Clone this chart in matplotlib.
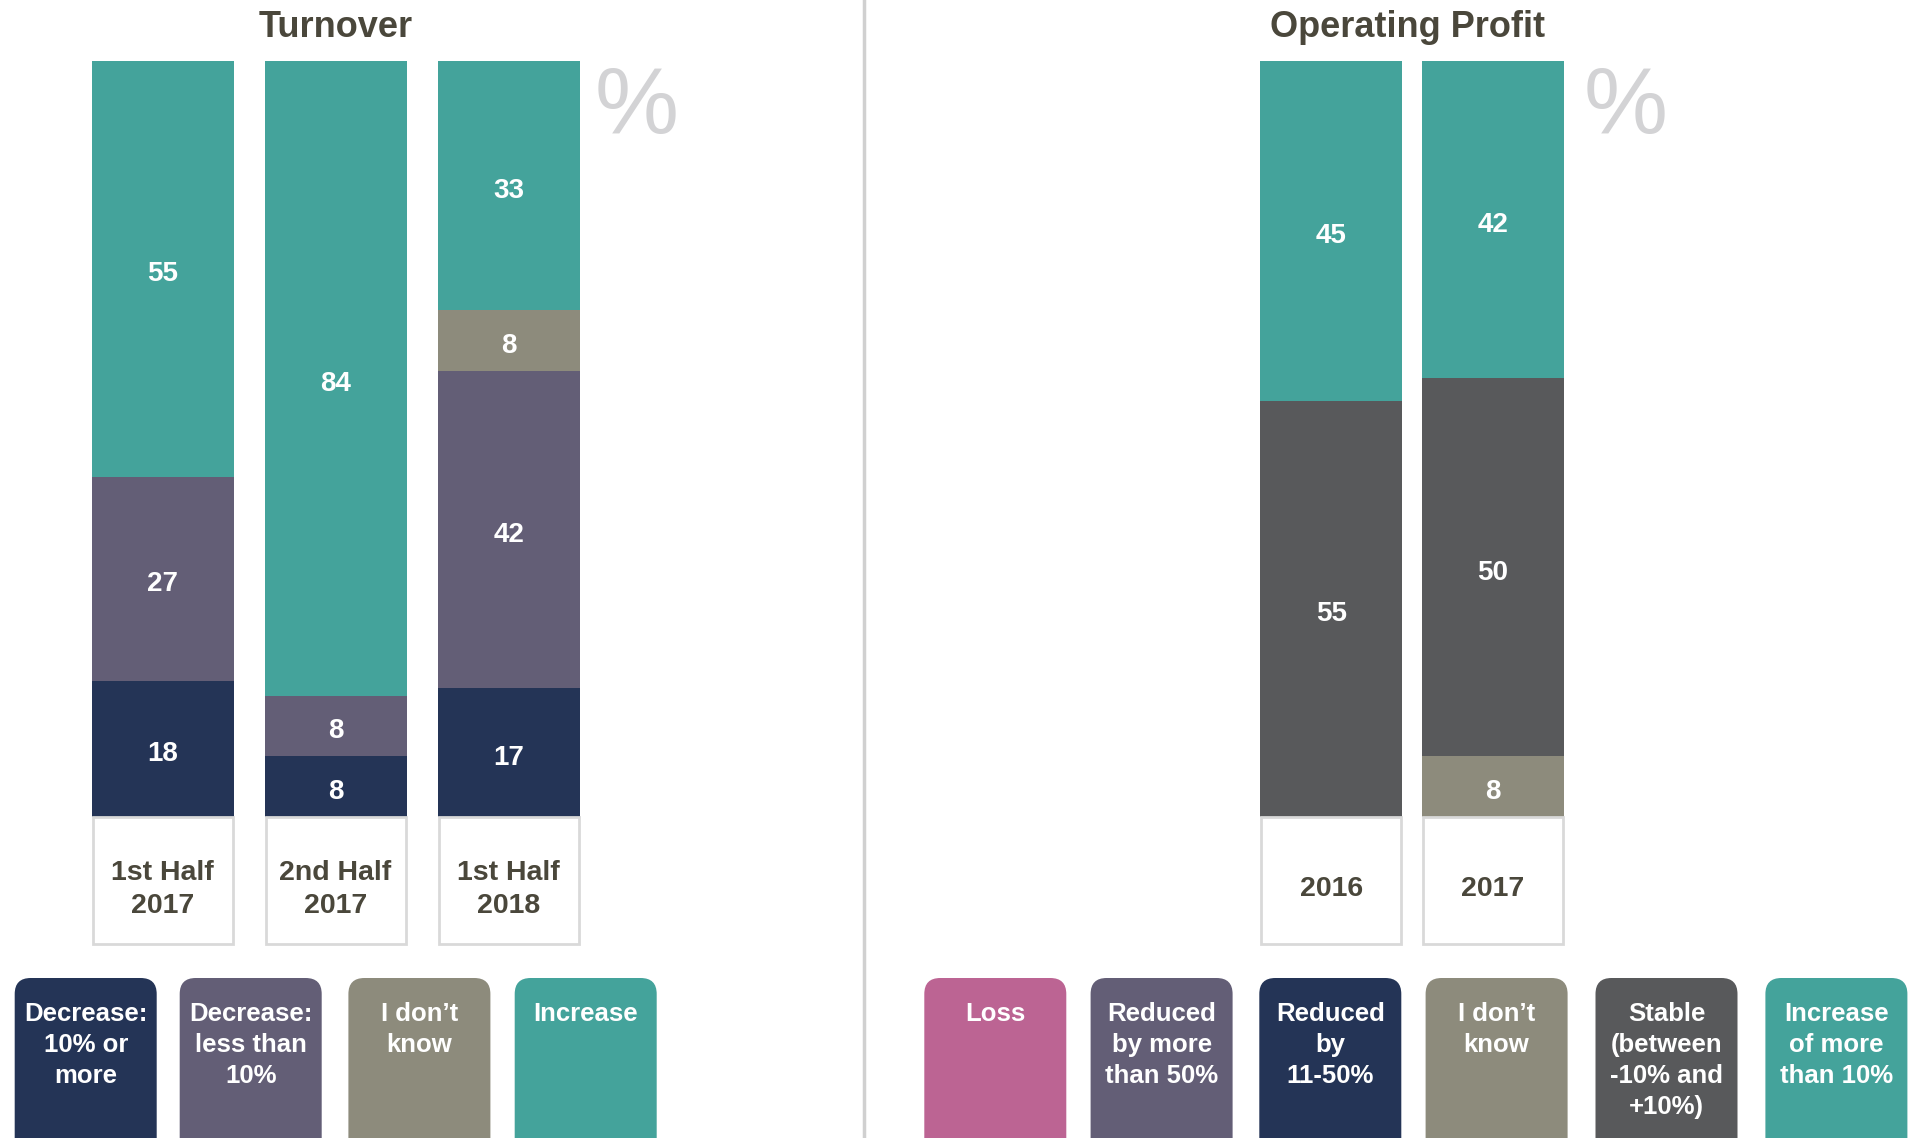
import matplotlib
matplotlib.use("Agg")
import matplotlib.pyplot as plt
from matplotlib.patches import FancyBboxPatch

plt.rcParams['font.family'] = ['Liberation Sans', 'DejaVu Sans']

# ---- data ----
turn_cats = ['1st Half\n2017', '2nd Half\n2017', '1st Half\n2018']
turn_series = ['Decrease:\n10% or\nmore', 'Decrease:\nless than\n10%', 'I don\u2019t\nknow', 'Increase']
turn_dec_big = [18, 8, 17]
turn_dec_small = [27, 8, 42]
turn_dont_know = [0, 0, 8]
turn_increase = [55, 84, 33]

op_cats = ['2016', '2017']
op_series = ['Loss', 'Reduced\nby more\nthan 50%', 'Reduced\nby\n11-50%', 'I don\u2019t\nknow',
             'Stable\n(between\n-10% and\n+10%)', 'Increase\nof more\nthan 10%']
op_loss = [0, 0]
op_red_big = [0, 0]
op_red_mid = [0, 0]
op_dont_know = [0, 8]
op_stable = [55, 50]
op_increase = [45, 42]

# ---- colours ----
TEAL = '#44A39B'
PURPLE = '#635E76'
NAVY = '#243456'
KHAKI = '#8D8B7C'
DGRAY = '#58595B'
PINK = '#BC6493'
TXT = '#4A473B'
LGRAY = '#D9D9D9'

W, H = 1917, 1138
fig = plt.figure(figsize=(W / 100, H / 100), dpi=100)

# overlay in pixel coords (y down)
bg = fig.add_axes([0, 0, 1, 1])
bg.set_xlim(0, W)
bg.set_ylim(H, 0)
bg.axis('off')


def px_axes(left, top, width, height):
    return fig.add_axes([left / W, 1 - (top + height) / H, width / W, height / H])


def stacked(ax, cats, series, colors, width):
    x = list(range(len(cats)))
    bottoms = [0] * len(cats)
    for vals, col in zip(series, colors):
        ax.bar(x, vals, width=width, bottom=bottoms, color=col, linewidth=0)
        for i, v in enumerate(vals):
            if v > 0:
                ax.text(x[i], bottoms[i] + v / 2 - 0.7, str(v), ha='center', va='center',
                        color='white', fontsize=20, fontweight='bold')
        bottoms = [b + v for b, v in zip(bottoms, vals)]
    # category boxes under the bars
    ax.bar(x, -16.8, width=width * 0.985, bottom=0, facecolor='white',
           edgecolor=LGRAY, linewidth=2, clip_on=False)
    for i, c in enumerate(cats):
        ax.text(x[i], -9.6, c, ha='center', va='center', color=TXT,
                fontsize=20.5, fontweight='bold', linespacing=1.33, clip_on=False)
    ax.set_xlim(-0.5, len(cats) - 0.5)
    ax.set_ylim(0, 100)
    ax.axis('off')


# left chart
ax1 = px_axes(76.1, 61, 519, 755.7)
stacked(ax1, turn_cats, [turn_dec_big, turn_dec_small, turn_dont_know, turn_increase],
        [NAVY, PURPLE, KHAKI, TEAL], 142 / 173)

# right chart
ax2 = px_axes(1250.7, 61, 322.8, 755.7)
stacked(ax2, op_cats, [op_loss, op_red_big, op_red_mid, op_dont_know, op_stable, op_increase],
        [PINK, PURPLE, NAVY, KHAKI, DGRAY, TEAL], 142 / 161.4)

# titles
bg.text(336, 27, 'Turnover', ha='center', va='center', color=TXT, fontsize=26, fontweight='bold')
bg.text(1408, 27, 'Operating Profit', ha='center', va='center', color=TXT, fontsize=26, fontweight='bold')

# percent signs
bg.text(637, 108, '%', ha='center', va='center', color='#D3D3D5', fontsize=68)
bg.text(1626, 108, '%', ha='center', va='center', color='#D3D3D5', fontsize=68)

# divider
bg.plot([864, 864], [0, H], color='#D0D0D0', lw=2.5)

# legend boxes
left_x = [14.7, 179.7, 348.4, 514.7]
right_x = [924.3, 1090.6, 1259.3, 1425.6, 1595.5, 1765.4]
for xs, labels, cols in [(left_x, turn_series, [NAVY, PURPLE, KHAKI, TEAL]),
                         (right_x, op_series, [PINK, PURPLE, NAVY, KHAKI, DGRAY, TEAL])]:
    for x0, lab, col in zip(xs, labels, cols):
        bg.add_patch(FancyBboxPatch((x0, 978), 142, 200,
                                    boxstyle='round,pad=0,rounding_size=16',
                                    facecolor=col, edgecolor='none'))
        bg.text(x0 + 71, 1002, lab, ha='center', va='top', color='white',
                fontsize=18.5, fontweight='bold', linespacing=1.36)

fig.savefig('out.png', dpi=100, facecolor='white')
